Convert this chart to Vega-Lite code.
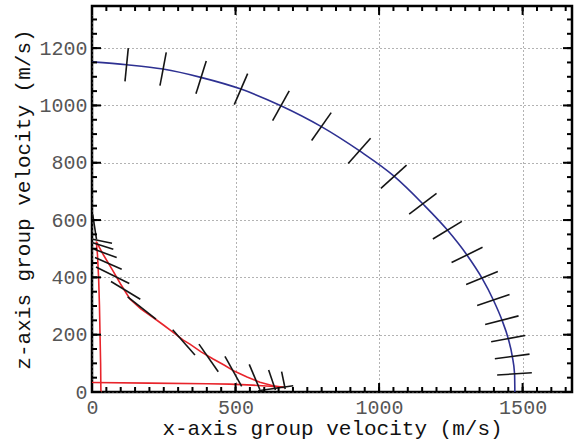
{
  "$schema": "https://vega.github.io/schema/vega-lite/v6.json",
  "width": 480,
  "height": 386,
  "autosize": "none",
  "padding": {"left": 92, "top": 6, "right": 4, "bottom": 47},
  "background": "white",
  "config": {
    "view": {"stroke": "black", "strokeWidth": 2.5},
    "font": "Liberation Mono"
  },
  "datasets": {
    "blue": [
      {"x": 0, "y": 1152}, {"x": 121, "y": 1142}, {"x": 247, "y": 1127}, {"x": 379, "y": 1098},
      {"x": 519, "y": 1057}, {"x": 658, "y": 999}, {"x": 799, "y": 926}, {"x": 931, "y": 842},
      {"x": 1051, "y": 754}, {"x": 1152, "y": 657}, {"x": 1238, "y": 565},
      {"x": 1306, "y": 478}, {"x": 1358, "y": 398}, {"x": 1398, "y": 321}, {"x": 1428, "y": 251},
      {"x": 1450, "y": 186}, {"x": 1464, "y": 124}, {"x": 1472, "y": 63}, {"x": 1473, "y": 0}
    ],
    "redVertical": [
      {"i": 0, "x": 31, "y": 0}, {"i": 1, "x": 30, "y": 100}, {"i": 2, "x": 28, "y": 200},
      {"i": 3, "x": 26, "y": 300}, {"i": 4, "x": 23, "y": 400}, {"i": 5, "x": 19, "y": 480},
      {"i": 6, "x": 15, "y": 525}
    ],
    "redCurve": [
      {"i": 6, "x": 15, "y": 525}, {"i": 7, "x": 40, "y": 478}, {"i": 8, "x": 70, "y": 428},
      {"i": 9, "x": 100, "y": 376}, {"i": 10, "x": 132, "y": 325}, {"i": 11, "x": 170, "y": 290},
      {"i": 12, "x": 213, "y": 260}, {"i": 13, "x": 250, "y": 233}, {"i": 14, "x": 283, "y": 208},
      {"i": 15, "x": 318, "y": 181}, {"i": 16, "x": 341, "y": 167}, {"i": 17, "x": 380, "y": 140},
      {"i": 18, "x": 422, "y": 115}, {"i": 19, "x": 460, "y": 94}, {"i": 20, "x": 495, "y": 73},
      {"i": 21, "x": 540, "y": 52}, {"i": 22, "x": 585, "y": 34}, {"i": 23, "x": 630, "y": 22},
      {"i": 24, "x": 668, "y": 16}
    ],
    "redHorizontal": [
      {"i": 24, "x": 668, "y": 16}, {"i": 25, "x": 620, "y": 20}, {"i": 26, "x": 560, "y": 24},
      {"i": 27, "x": 480, "y": 27.5}, {"i": 28, "x": 400, "y": 29}, {"i": 29, "x": 200, "y": 31},
      {"i": 30, "x": 0, "y": 33}
    ],
    "segBlue": [
      {"x": 114.9, "y": 1083.9, "x2": 126.4, "y2": 1200.2},
      {"x": 236.8, "y": 1069.0, "x2": 258.7, "y2": 1184.9},
      {"x": 362.1, "y": 1041.1, "x2": 398.0, "y2": 1155.0},
      {"x": 495.5, "y": 1002.8, "x2": 542.2, "y2": 1110.8},
      {"x": 629.2, "y": 947.1, "x2": 687.0, "y2": 1050.5},
      {"x": 765.0, "y": 877.5, "x2": 833.2, "y2": 975.0},
      {"x": 892.4, "y": 797.4, "x2": 970.4, "y2": 885.5},
      {"x": 1006.3, "y": 710.3, "x2": 1095.8, "y2": 791.5},
      {"x": 1104.8, "y": 620.8, "x2": 1200.2, "y2": 692.9},
      {"x": 1187.4, "y": 533.8, "x2": 1288.3, "y2": 595.4},
      {"x": 1252.5, "y": 451.6, "x2": 1360.4, "y2": 504.9},
      {"x": 1303.3, "y": 375.0, "x2": 1413.7, "y2": 420.3},
      {"x": 1341.6, "y": 301.9, "x2": 1454.4, "y2": 340.2},
      {"x": 1369.5, "y": 235.7, "x2": 1485.8, "y2": 265.7},
      {"x": 1390.4, "y": 175.1, "x2": 1508.8, "y2": 197.4},
      {"x": 1403.2, "y": 116.0, "x2": 1524.1, "y2": 132.3},
      {"x": 1411.3, "y": 59.2, "x2": 1532.1, "y2": 67.2}
    ],
    "segRed": [
      {"x": 2.4, "y": 619.8, "x2": 15.7, "y2": 532.8},
      {"x": 2.4, "y": 532.8, "x2": 69.6, "y2": 518.8},
      {"x": 2.4, "y": 521.2, "x2": 74.2, "y2": 497.9},
      {"x": 8, "y": 497.9, "x2": 86, "y2": 469},
      {"x": 10.4, "y": 469, "x2": 103.4, "y2": 428.3},
      {"x": 13.9, "y": 436.3, "x2": 129.9, "y2": 378.5},
      {"x": 66.2, "y": 385.5, "x2": 168.2, "y2": 323.8},
      {"x": 124.3, "y": 331.8, "x2": 222.8, "y2": 254.2},
      {"x": 281, "y": 216.9, "x2": 358.6, "y2": 128.8},
      {"x": 372.6, "y": 167.1, "x2": 439.8, "y2": 70.7},
      {"x": 463.1, "y": 124.3, "x2": 521.3, "y2": 19.8},
      {"x": 547.7, "y": 96.5, "x2": 585, "y2": 8},
      {"x": 615.3, "y": 76.6, "x2": 639, "y2": 7},
      {"x": 660.5, "y": 71.4, "x2": 673, "y2": 10.4},
      {"x": 579, "y": 4.5, "x2": 701, "y2": 21.9}
    ],
    "xTickMinor": [
      {"v": 0}, {"v": 50}, {"v": 100}, {"v": 150}, {"v": 200}, {"v": 250}, {"v": 300}, {"v": 350}, {"v": 400}, {"v": 450},
      {"v": 500}, {"v": 550}, {"v": 600}, {"v": 650}, {"v": 700}, {"v": 750}, {"v": 800}, {"v": 850}, {"v": 900}, {"v": 950},
      {"v": 1000}, {"v": 1050}, {"v": 1100}, {"v": 1150}, {"v": 1200}, {"v": 1250}, {"v": 1300}, {"v": 1350}, {"v": 1400}, {"v": 1450},
      {"v": 1500}, {"v": 1550}, {"v": 1600}, {"v": 1650}
    ],
    "xTickMajor": [{"v": 0}, {"v": 500}, {"v": 1000}, {"v": 1500}],
    "yTickMinor": [
      {"v": 0}, {"v": 50}, {"v": 100}, {"v": 150}, {"v": 200}, {"v": 250}, {"v": 300}, {"v": 350}, {"v": 400}, {"v": 450},
      {"v": 500}, {"v": 550}, {"v": 600}, {"v": 650}, {"v": 700}, {"v": 750}, {"v": 800}, {"v": 850}, {"v": 900}, {"v": 950},
      {"v": 1000}, {"v": 1050}, {"v": 1100}, {"v": 1150}, {"v": 1200}, {"v": 1250}, {"v": 1300}
    ],
    "yTickMajor": [{"v": 0}, {"v": 200}, {"v": 400}, {"v": 600}, {"v": 800}, {"v": 1000}, {"v": 1200}]
  },
  "resolve": {"axis": {"x": "independent", "y": "independent"}},
  "layer": [
    {
      "data": {"name": "blue"},
      "mark": {"type": "line", "color": "#2e3192", "strokeWidth": 1.6, "interpolate": "monotone"},
      "encoding": {
        "x": {"field": "x", "type": "quantitative", "scale": {"domain": [0, 1672], "nice": false, "zero": false},
          "axis": {"orient": "bottom", "values": [0, 500, 1000, 1500], "format": "d", "grid": true, "gridDash": [1, 3], "gridColor": "#666", "gridWidth": 1,
            "ticks": false, "domain": false, "labelFlush": false, "labelFont": "Liberation Mono", "labelFontSize": 20, "labelColor": "#555",
            "labelPadding": 5, "title": "x-axis group velocity (m/s)", "titleFont": "Liberation Mono", "titleFontSize": 21,
            "titleFontWeight": "normal", "titleColor": "#111", "titlePadding": 0}},
        "y": {"field": "y", "type": "quantitative", "scale": {"domain": [0, 1347], "nice": false, "zero": false},
          "axis": {"orient": "left", "values": [0, 200, 400, 600, 800, 1000, 1200], "format": "d", "grid": true, "gridDash": [1, 3], "gridColor": "#666", "gridWidth": 1,
            "ticks": false, "domain": false, "labelFont": "Liberation Mono", "labelFontSize": 20, "labelColor": "#555",
            "labelPadding": 5, "title": "z-axis group velocity (m/s)", "titleFont": "Liberation Mono", "titleFontSize": 21,
            "titleFontWeight": "normal", "titleColor": "#111", "titlePadding": 5}}
      }
    },
    {
      "data": {"name": "redVertical"},
      "mark": {"type": "line", "color": "#e8242b", "strokeWidth": 1.6},
      "encoding": {
        "x": {"field": "x", "type": "quantitative", "axis": null},
        "y": {"field": "y", "type": "quantitative", "axis": null},
        "order": {"field": "i", "type": "quantitative"}
      }
    },
    {
      "data": {"name": "redCurve"},
      "mark": {"type": "line", "color": "#e8242b", "strokeWidth": 1.6},
      "encoding": {
        "x": {"field": "x", "type": "quantitative", "axis": null},
        "y": {"field": "y", "type": "quantitative", "axis": null},
        "order": {"field": "i", "type": "quantitative"}
      }
    },
    {
      "data": {"name": "redHorizontal"},
      "mark": {"type": "line", "color": "#e8242b", "strokeWidth": 1.6},
      "encoding": {
        "x": {"field": "x", "type": "quantitative", "axis": null},
        "y": {"field": "y", "type": "quantitative", "axis": null},
        "order": {"field": "i", "type": "quantitative"}
      }
    },
    {
      "data": {"name": "segBlue"},
      "mark": {"type": "rule", "color": "#151515", "strokeWidth": 1.6},
      "encoding": {
        "x": {"field": "x", "type": "quantitative", "axis": null},
        "y": {"field": "y", "type": "quantitative", "axis": null},
        "x2": {"field": "x2"},
        "y2": {"field": "y2"}
      }
    },
    {
      "data": {"name": "segRed"},
      "mark": {"type": "rule", "color": "#151515", "strokeWidth": 1.6},
      "encoding": {
        "x": {"field": "x", "type": "quantitative", "axis": null},
        "y": {"field": "y", "type": "quantitative", "axis": null},
        "x2": {"field": "x2"},
        "y2": {"field": "y2"}
      }
    },
    {
      "data": {"name": "xTickMinor"},
      "mark": {"type": "rule", "color": "black", "strokeWidth": 2},
      "encoding": {
        "x": {"field": "v", "type": "quantitative", "axis": null},
        "y": {"datum": 0, "type": "quantitative", "axis": null},
        "y2": {"datum": 17.4}
      }
    },
    {
      "data": {"name": "xTickMinor"},
      "mark": {"type": "rule", "color": "black", "strokeWidth": 2},
      "encoding": {
        "x": {"field": "v", "type": "quantitative", "axis": null},
        "y": {"datum": 1347, "type": "quantitative", "axis": null},
        "y2": {"datum": 1329.6}
      }
    },
    {
      "data": {"name": "xTickMajor"},
      "mark": {"type": "rule", "color": "black", "strokeWidth": 2},
      "encoding": {
        "x": {"field": "v", "type": "quantitative", "axis": null},
        "y": {"datum": 0, "type": "quantitative", "axis": null},
        "y2": {"datum": 31.3}
      }
    },
    {
      "data": {"name": "xTickMajor"},
      "mark": {"type": "rule", "color": "black", "strokeWidth": 2},
      "encoding": {
        "x": {"field": "v", "type": "quantitative", "axis": null},
        "y": {"datum": 1347, "type": "quantitative", "axis": null},
        "y2": {"datum": 1315.7}
      }
    },
    {
      "data": {"name": "yTickMinor"},
      "mark": {"type": "rule", "color": "black", "strokeWidth": 2},
      "encoding": {
        "y": {"field": "v", "type": "quantitative", "axis": null},
        "x": {"datum": 0, "type": "quantitative", "axis": null},
        "x2": {"datum": 17.4}
      }
    },
    {
      "data": {"name": "yTickMinor"},
      "mark": {"type": "rule", "color": "black", "strokeWidth": 2},
      "encoding": {
        "y": {"field": "v", "type": "quantitative", "axis": null},
        "x": {"datum": 1672, "type": "quantitative", "axis": null},
        "x2": {"datum": 1654.6}
      }
    },
    {
      "data": {"name": "yTickMajor"},
      "mark": {"type": "rule", "color": "black", "strokeWidth": 2},
      "encoding": {
        "y": {"field": "v", "type": "quantitative", "axis": null},
        "x": {"datum": 0, "type": "quantitative", "axis": null},
        "x2": {"datum": 31.3}
      }
    },
    {
      "data": {"name": "yTickMajor"},
      "mark": {"type": "rule", "color": "black", "strokeWidth": 2},
      "encoding": {
        "y": {"field": "v", "type": "quantitative", "axis": null},
        "x": {"datum": 1672, "type": "quantitative", "axis": null},
        "x2": {"datum": 1640.7}
      }
    }
  ]
}
